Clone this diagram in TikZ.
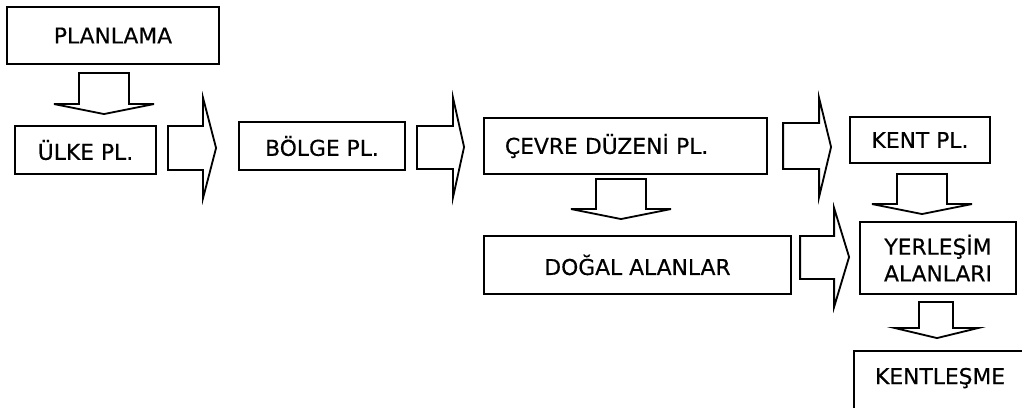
\documentclass[tikz,border=0pt]{standalone}
\usepackage{fontspec}
\setmainfont{DejaVu Sans}[FakeBold=0.4]
\usepackage{tikz}
\usetikzlibrary{calc}

\begin{document}
\begin{tikzpicture}[
    x=0.025cm, y=-0.025cm,
    box/.style={rectangle, draw=black, line width=1.5pt, inner sep=0pt, font=\fontsize{15.5}{19}\selectfont, align=center},
    blockarrow/.style={draw=black, fill=white, line width=1.3pt, line join=miter}
]

\fill[white] (0,0) rectangle (1022,408);
\useasboundingbox (0,0) rectangle (1022,408);

% Nodes
\node[box, minimum width=5.3cm, minimum height=1.425cm] (plan) at (113,35.5) {PLANLAMA};
\node[box, minimum width=3.525cm, minimum height=1.2cm] (ulke) at (85.5,150) {ÜLKE PL.};
\node[box, minimum width=4.15cm, minimum height=1.2cm] (bolge) at (322,146) {BÖLGE PL.};
\node[box, minimum width=7.075cm, minimum height=1.4cm, text width=6.025cm, inner xsep=0.525cm, align=left] (cevre) at (625.5,146) {ÇEVRE DÜZENİ PL.};
\node[box, minimum width=3.5cm, minimum height=1.15cm] (kent) at (920,140) {KENT PL.};
\node[box, minimum width=7.675cm, minimum height=1.45cm] (dogal) at (637.5,265) {DOĞAL ALANLAR};
\node[box, minimum width=3.9cm, minimum height=1.8cm] (yer) at (938,258) {YERLEŞİM\\ALANLARI};
\node[box, anchor=north west, minimum width=4.3cm, text height=0.825cm, text depth=0.8cm] (kentles) at (853,350) {KENTLEŞME};

% Arrows
\draw[blockarrow] ([shift={(-34,8)}]plan.south) -- ++(0,31) -- ++(-25,0) -- ++(50,10) -- ++(50,-10) -- ++(-25,0) -- ++(0,-31) -- cycle;
\draw[blockarrow] ([shift={(11,-24)}]ulke.east) -- ++(35,0) -- ++(0,-28) -- ++(13,50) -- ++(-13,50) -- ++(0,-28) -- ++(-35,0) -- cycle;
\draw[blockarrow] ([shift={(11,-20)}]bolge.east) -- ++(36,0) -- ++(0,-28) -- ++(11,49) -- ++(-11,50) -- ++(0,-28) -- ++(-36,0) -- cycle;
\draw[blockarrow] ([shift={(15,-23)}]cevre.east) -- ++(36,0) -- ++(0,-25) -- ++(12,49) -- ++(-12,50) -- ++(0,-28) -- ++(-36,0) -- cycle;
\draw[blockarrow] ([shift={(-29.5,4)}]cevre.south) -- ++(0,30) -- ++(-25,0) -- ++(50,10) -- ++(50,-10) -- ++(-25,0) -- ++(0,-30) -- cycle;
\draw[blockarrow] ([shift={(-23,10)}]kent.south) -- ++(0,30) -- ++(-25,0) -- ++(50,10) -- ++(50,-10) -- ++(-25,0) -- ++(0,-30) -- cycle;
\draw[blockarrow] ([shift={(8,-29)}]dogal.east) -- ++(34,0) -- ++(0,-28) -- ++(15,49) -- ++(-15,50) -- ++(0,-28) -- ++(-34,0) -- cycle;
\draw[blockarrow] ([shift={(-19,7)}]yer.south) -- ++(0,26) -- ++(-24,0) -- ++(42,10) -- ++(41,-10) -- ++(-25,0) -- ++(0,-26) -- cycle;

\end{tikzpicture}
\end{document}
